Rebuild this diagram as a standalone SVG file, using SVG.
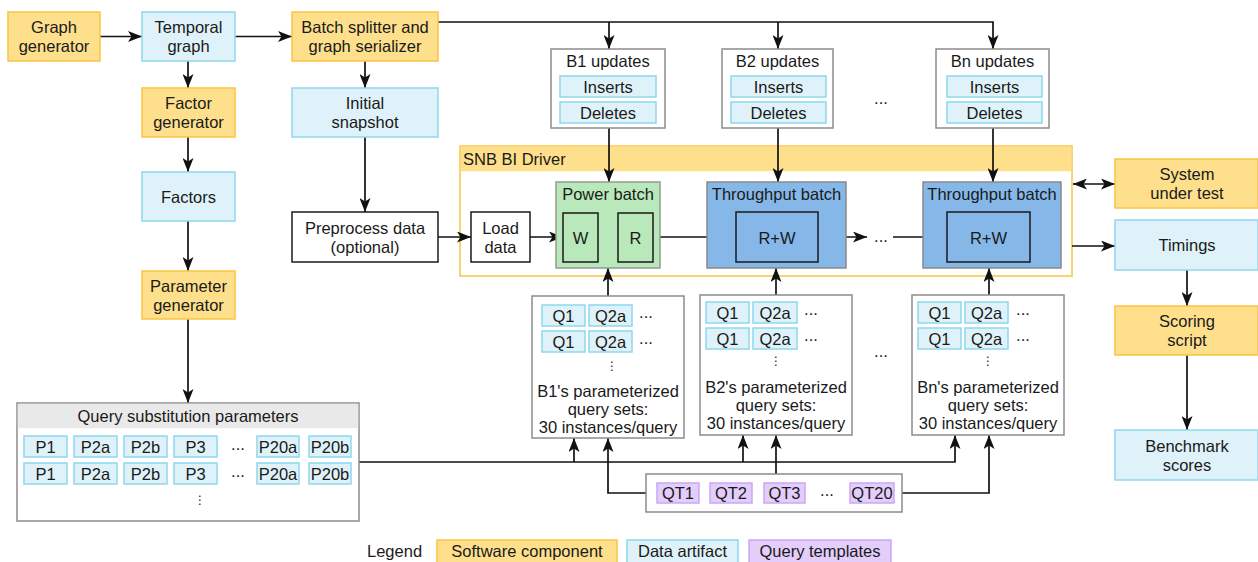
<svg xmlns="http://www.w3.org/2000/svg" width="1258" height="562" viewBox="0 0 1258 562">
<style>
text{font-family:"Liberation Sans",Arial,sans-serif;font-size:16.5px;fill:#1a1a1a;text-anchor:middle;dominant-baseline:central}
.sw{fill:#fedf8c;stroke:#fbc443;stroke-width:1.5}
.da{fill:#dff2f9;stroke:#8fd8ee;stroke-width:1.5}
.qt{fill:#e3cdfa;stroke:#caa6f5;stroke-width:1.5}
.gc{fill:#fff;stroke:#8c8c8c;stroke-width:1.5}
.bk{fill:#fff;stroke:#1a1a1a;stroke-width:1.5}
.pw{fill:#b9e8ba;stroke:#939c93;stroke-width:1.5}
.pwi{fill:#b9e8ba;stroke:#1a1a1a;stroke-width:1.5}
.tp{fill:#85b8e8;stroke:#8a8a8a;stroke-width:1.5}
.tpi{fill:#85b8e8;stroke:#1a1a1a;stroke-width:1.5}
.e{fill:none;stroke:#111;stroke-width:1.7}
.a{marker-end:url(#arr)}
.st{text-anchor:start}
.vd{font-family:"DejaVu Sans",sans-serif;font-size:12px}
</style>
<defs>
<marker id="arr" viewBox="0 0 14 11" markerWidth="14" markerHeight="11" refX="14" refY="5.5" orient="auto-start-reverse" markerUnits="userSpaceOnUse">
<path d="M0,0 L14,5.5 L0,11 L3.5,5.5 z" fill="#111"/>
</marker>
</defs>
<rect width="1258" height="562" fill="#fff"/>

<g id="snb-driver">
<rect x="460" y="146" width="612" height="130" fill="#fff" stroke="#fbc443" stroke-width="1.5"/>
<rect x="460.75" y="146.75" width="610.5" height="24.5" fill="#fedf8c"/>
<text class="st" x="463" y="158.5">SNB BI Driver</text>
</g>

<g id="connectors">
<path class="e a" d="M100,36.5 H142"/>
<path class="e a" d="M235,36.5 H292"/>
<path class="e a" d="M188,61 V88"/>
<path class="e a" d="M188,137 V172"/>
<path class="e a" d="M188,221 V271"/>
<path class="e a" d="M188,319 V403"/>
<path class="e a" d="M365,61 V88"/>
<path class="e a" d="M365,137 V212"/>
<path class="e a" d="M438,237 H471"/>
<path class="e a" d="M530,237 H563"/>
<path class="e a" d="M598,237 H618"/>
<path class="e a" d="M653,237 H736"/>
<path class="e a" d="M818,237 H867"/>
<path class="e a" d="M893,237 H947"/>
<path class="e a" d="M438,22 H993 V49"/>
<path class="e a" d="M609,22 V49"/>
<path class="e a" d="M778,22 V49"/>
<path class="e a" d="M609,128 V182"/>
<path class="e a" d="M778,128 V182"/>
<path class="e a" d="M993,128 V182"/>
<path class="e a" d="M1073,184 H1115" marker-start="url(#arr)"/>
<path class="e a" d="M1072,246 H1115"/>
<path class="e a" d="M1187,270 V306"/>
<path class="e a" d="M1187,355 V430"/>
<path class="e a" d="M608,296 V268"/>
<path class="e a" d="M776,295 V268"/>
<path class="e a" d="M989,295 V268"/>
<path class="e a" d="M359,462 H955 V435"/>
<path class="e a" d="M574,462 V438"/>
<path class="e a" d="M743,462 V435"/>
<path class="e a" d="M646,493 H608 V438"/>
<path class="e a" d="M776,474 V435"/>
<path class="e a" d="M902,493 H989 V435"/>
</g>

<g id="graph-generator"><rect class="sw" x="8" y="12" width="92" height="49"/><text x="54" y="27">Graph</text><text x="54" y="46">generator</text></g>
<g id="temporal-graph"><rect class="da" x="142" y="12" width="93" height="49"/><text x="188.5" y="27">Temporal</text><text x="188.5" y="46">graph</text></g>
<g id="batch-splitter"><rect class="sw" x="292" y="12" width="146" height="49"/><text x="365" y="27">Batch splitter and</text><text x="365" y="46">graph serializer</text></g>
<g id="factor-generator"><rect class="sw" x="142" y="88" width="93" height="49"/><text x="188.5" y="103">Factor</text><text x="188.5" y="122">generator</text></g>
<g id="initial-snapshot"><rect class="da" x="292" y="88" width="146" height="49"/><text x="365" y="103">Initial</text><text x="365" y="122">snapshot</text></g>
<g id="factors"><rect class="da" x="142" y="172" width="93" height="49"/><text x="188.5" y="196.5">Factors</text></g>
<g id="parameter-generator"><rect class="sw" x="142" y="271" width="93" height="48"/><text x="188.5" y="285.5">Parameter</text><text x="188.5" y="304.5">generator</text></g>
<g id="preprocess"><rect class="bk" x="292" y="212" width="146" height="50"/><text x="365" y="228">Preprocess data</text><text x="365" y="247">(optional)</text></g>
<g id="load-data"><rect class="bk" x="471" y="212" width="59" height="50"/><text x="500.5" y="228">Load</text><text x="500.5" y="247">data</text></g>

<g id="b1-updates"><rect class="gc" x="551" y="49" width="114" height="79"/><text x="608" y="61">B1 updates</text>
<rect class="da" x="560" y="76" width="96" height="21"/><text x="608" y="86.5">Inserts</text>
<rect class="da" x="560" y="102" width="96" height="21"/><text x="608" y="112.5">Deletes</text></g>
<g id="b2-updates"><rect class="gc" x="722" y="49" width="111" height="79"/><text x="777.5" y="61">B2 updates</text>
<rect class="da" x="731" y="76" width="95" height="21"/><text x="778.5" y="86.5">Inserts</text>
<rect class="da" x="731" y="102" width="95" height="21"/><text x="778.5" y="112.5">Deletes</text></g>
<g id="bn-updates"><rect class="gc" x="936" y="49" width="113" height="79"/><text x="992.5" y="61">Bn updates</text>
<rect class="da" x="947" y="76" width="95" height="21"/><text x="994.5" y="86.5">Inserts</text>
<rect class="da" x="947" y="102" width="95" height="21"/><text x="994.5" y="112.5">Deletes</text></g>
<text x="881" y="98">...</text>

<g id="power-batch"><rect class="pw" x="556" y="182" width="104" height="86"/><text x="608" y="194">Power batch</text>
<rect class="pwi" x="563" y="213" width="35" height="49"/><text x="580.5" y="237.5">W</text>
<rect class="pwi" x="618" y="213" width="35" height="49"/><text x="635.5" y="237.5">R</text></g>
<g id="throughput-batch-1"><rect class="tp" x="707" y="182" width="139" height="86"/><text x="776.5" y="194">Throughput batch</text>
<rect class="tpi" x="736" y="212" width="82" height="50"/><text x="777" y="237.5">R+W</text></g>
<text x="881" y="236">...</text>
<g id="throughput-batch-n"><rect class="tp" x="923" y="182" width="138" height="86"/><text x="992" y="194">Throughput batch</text>
<rect class="tpi" x="947" y="212" width="83" height="50"/><text x="988.5" y="237.5">R+W</text></g>

<g id="system-under-test"><rect class="sw" x="1115" y="159" width="143" height="49"/><text x="1187" y="174">System</text><text x="1187" y="193">under test</text></g>
<g id="timings"><rect class="da" x="1115" y="220" width="143" height="50"/><text x="1187" y="245">Timings</text></g>
<g id="scoring-script"><rect class="sw" x="1115" y="306" width="143" height="49"/><text x="1187" y="321">Scoring</text><text x="1187" y="340">script</text></g>
<g id="benchmark-scores"><rect class="da" x="1115" y="430" width="143" height="50"/><text x="1187" y="445.5">Benchmark</text><text x="1187" y="464.5">scores</text></g>

<g id="b1-query-sets"><rect class="gc" x="532" y="296" width="152" height="142"/>
<rect class="da" x="542" y="305" width="43" height="21"/><text x="563.5" y="315.5">Q1</text>
<rect class="da" x="589" y="305" width="43" height="21"/><text x="610.5" y="315.5">Q2a</text><text x="646" y="312">...</text>
<rect class="da" x="542" y="331" width="43" height="21"/><text x="563.5" y="341.5">Q1</text>
<rect class="da" x="589" y="331" width="43" height="21"/><text x="610.5" y="341.5">Q2a</text><text x="646" y="338">...</text>
<text class="vd" x="612" y="366">⋮</text>
<text x="608" y="391">B1's parameterized</text><text x="608" y="409">query sets:</text><text x="608" y="427">30 instances/query</text></g>
<g id="b2-query-sets"><rect class="gc" x="700" y="295" width="152" height="140"/>
<rect class="da" x="706" y="302" width="43" height="21"/><text x="727.5" y="312.5">Q1</text>
<rect class="da" x="753" y="302" width="44" height="21"/><text x="775" y="312.5">Q2a</text><text x="811" y="309">...</text>
<rect class="da" x="706" y="328" width="43" height="21"/><text x="727.5" y="338.5">Q1</text>
<rect class="da" x="753" y="328" width="44" height="21"/><text x="775" y="338.5">Q2a</text><text x="811" y="335">...</text>
<text class="vd" x="776" y="361">⋮</text>
<text x="776" y="387">B2's parameterized</text><text x="776" y="405">query sets:</text><text x="776" y="423">30 instances/query</text></g>
<text x="881" y="351">...</text>
<g id="bn-query-sets"><rect class="gc" x="912" y="295" width="152" height="140"/>
<rect class="da" x="918" y="302" width="43" height="21"/><text x="939.5" y="312.5">Q1</text>
<rect class="da" x="965" y="302" width="43" height="21"/><text x="986.5" y="312.5">Q2a</text><text x="1023" y="309">...</text>
<rect class="da" x="918" y="328" width="43" height="21"/><text x="939.5" y="338.5">Q1</text>
<rect class="da" x="965" y="328" width="43" height="21"/><text x="986.5" y="338.5">Q2a</text><text x="1023" y="335">...</text>
<text class="vd" x="988" y="361">⋮</text>
<text x="988" y="387">Bn's parameterized</text><text x="988" y="405">query sets:</text><text x="988" y="423">30 instances/query</text></g>

<g id="query-substitution-parameters">
<rect class="gc" x="17" y="403" width="342" height="118"/>
<rect x="17.75" y="403.75" width="340.5" height="24.5" fill="#e9e9e9"/>
<text x="188" y="415.5">Query substitution parameters</text>
<rect class="da" x="24" y="436" width="43" height="21"/><text x="45.5" y="446.5">P1</text>
<rect class="da" x="74" y="436" width="43" height="21"/><text x="95.5" y="446.5">P2a</text>
<rect class="da" x="124" y="436" width="43" height="21"/><text x="145.5" y="446.5">P2b</text>
<rect class="da" x="174" y="436" width="43" height="21"/><text x="195.5" y="446.5">P3</text>
<text x="238" y="444">...</text>
<rect class="da" x="257" y="436" width="42" height="21"/><text x="278" y="446.5">P20a</text>
<rect class="da" x="309" y="436" width="42" height="21"/><text x="330" y="446.5">P20b</text>
<rect class="da" x="24" y="463" width="43" height="21"/><text x="45.5" y="473.5">P1</text>
<rect class="da" x="74" y="463" width="43" height="21"/><text x="95.5" y="473.5">P2a</text>
<rect class="da" x="124" y="463" width="43" height="21"/><text x="145.5" y="473.5">P2b</text>
<rect class="da" x="174" y="463" width="43" height="21"/><text x="195.5" y="473.5">P3</text>
<text x="238" y="471">...</text>
<rect class="da" x="257" y="463" width="42" height="21"/><text x="278" y="473.5">P20a</text>
<rect class="da" x="309" y="463" width="42" height="21"/><text x="330" y="473.5">P20b</text>
<text class="vd" x="200" y="500">⋮</text>
</g>

<g id="query-templates">
<rect class="gc" x="646" y="474" width="256" height="38"/>
<rect class="qt" x="657" y="483" width="42" height="20"/><text x="678" y="493">QT1</text>
<rect class="qt" x="710" y="483" width="42" height="20"/><text x="731" y="493">QT2</text>
<rect class="qt" x="764" y="483" width="41" height="20"/><text x="784.5" y="493">QT3</text>
<text x="827" y="490">...</text>
<rect class="qt" x="850" y="483" width="44" height="20"/><text x="872" y="493">QT20</text>
</g>

<g id="legend">
<text class="st" x="367" y="551">Legend</text>
<rect class="sw" x="437" y="540" width="180" height="24"/><text x="527" y="551">Software component</text>
<rect class="da" x="627" y="540" width="111" height="24"/><text x="682.5" y="551">Data artifact</text>
<rect class="qt" x="749" y="540" width="142" height="24"/><text x="820" y="551">Query templates</text>
</g>
</svg>
